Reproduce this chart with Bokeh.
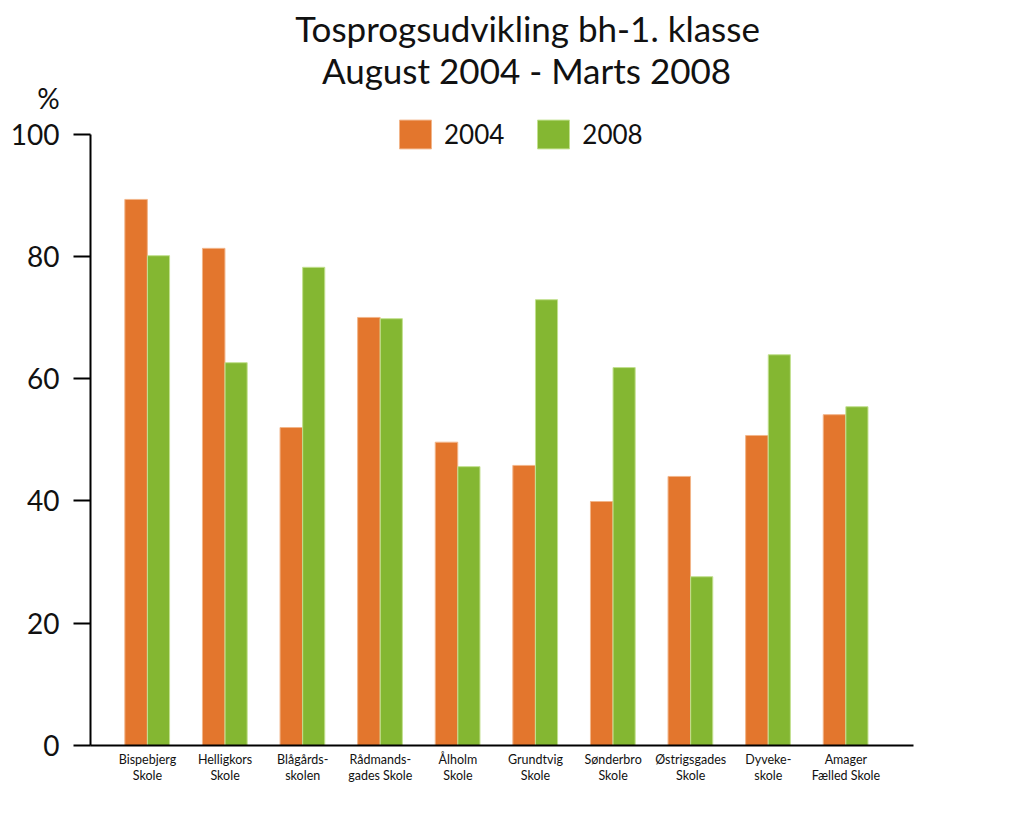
import numpy as np
from bokeh.plotting import figure
from bokeh.models import Range1d, FixedTicker, Label, Legend, LegendItem
from bokeh.embed import file_html
from bokeh.resources import INLINE

schools = ["Bispebjerg\nSkole", "Helligkors\nSkole", "Blågårds-\nskolen", "Rådmands-\ngades Skole",
           "Ålholm\nSkole", "Grundtvig\nSkole", "Sønderbro\nSkole", "Østrigsgades\nSkole",
           "Dyveke-\nskole", "Amager\nFælled Skole"]
v2004 = [89.3, 81.3, 52.0, 70.0, 49.6, 45.8, 39.9, 44.0, 50.7, 54.1]
v2008 = [80.1, 62.6, 78.2, 69.8, 45.6, 72.9, 61.8, 27.6, 63.9, 55.4]
y_ticks = [0, 20, 40, 60, 80, 100]
title_lines = ["Tosprogsudvikling bh-1. klasse", "August 2004 - Marts 2008"]

ORANGE = "#E3762D"
GREEN = "#84B732"
FONT = "Lato"
TXT = "#111111"

W, H = 1020, 810
# layout: axis origin at pixel (90, 745); 77.6 px per category, 6.115 px per percent
AX_LEFT, AX_BOTTOM, AX_RIGHT = 90, 745, 913
SX, SY = 77.6, 6.115
X0 = -0.7345  # data x at the y axis


def px2x(px):
    return X0 + (px - AX_LEFT) / SX


def py2y(py):
    return (AX_BOTTOM - py) / SY


idx = np.arange(len(schools))

p = figure(width=W, height=H, output_backend="svg", toolbar_location=None,
           x_range=Range1d(px2x(0), px2x(W)), y_range=Range1d(py2y(H), py2y(0)),
           min_border=0, min_border_left=0, min_border_right=0,
           min_border_top=0, min_border_bottom=0)
p.title.visible = False
p.background_fill_color = "white"
p.border_fill_color = "white"
p.outline_line_color = None
p.grid.grid_line_color = None

r1 = p.vbar(x=idx - 0.147, top=v2004, width=0.29, fill_color=ORANGE, line_color="#F2B58A", line_width=1)
r2 = p.vbar(x=idx + 0.142, top=v2008, width=0.285, fill_color=GREEN, line_color="#C2E08F", line_width=1)

# y axis
yax = p.yaxis[0]
yax.fixed_location = X0
yax.ticker = FixedTicker(ticks=y_ticks)
yax.bounds = (0, 100)
yax.axis_line_width = 2
yax.axis_line_color = "black"
yax.major_tick_line_width = 2
yax.major_tick_line_color = "black"
yax.major_tick_in = 0
yax.major_tick_out = 17
yax.minor_tick_line_color = None
yax.major_label_standoff = 14
yax.major_label_text_font = FONT
yax.major_label_text_font_size = "28px"
yax.major_label_text_color = TXT

# x axis
xax = p.xaxis[0]
xax.fixed_location = 0
xax.ticker = FixedTicker(ticks=list(idx))
xax.major_label_overrides = {int(i): s for i, s in zip(idx, schools)}
xax.bounds = (X0, px2x(AX_RIGHT))
xax.axis_line_width = 2
xax.axis_line_color = "black"
xax.major_tick_line_color = None
xax.minor_tick_line_color = None
xax.major_tick_in = 0
xax.major_tick_out = 0
xax.major_label_standoff = 6
xax.major_label_text_font = FONT
xax.major_label_text_font_size = "12.5px"
xax.major_label_text_line_height = 1.1
xax.major_label_text_color = TXT

# title lines
p.add_layout(Label(x=px2x(527), y=py2y(27), text=title_lines[0], text_align="center",
                   text_baseline="alphabetic", text_font=FONT, text_font_size="35px",
                   text_color=TXT))
p.add_layout(Label(x=px2x(526), y=py2y(69), text=title_lines[1], text_align="center",
                   text_baseline="alphabetic", text_font=FONT, text_font_size="35px",
                   text_color=TXT))

# % unit label
p.add_layout(Label(x=px2x(48), y=py2y(97), text="%", text_align="center",
                   text_baseline="alphabetic", text_font=FONT, text_font_size="28px",
                   text_color=TXT))

legend = Legend(items=[LegendItem(label="2004", renderers=[r1]),
                       LegendItem(label="2008", renderers=[r2])],
                orientation="horizontal", location=(395, H - 152),
                glyph_width=40, glyph_height=36, label_height=36, label_standoff=9,
                label_text_font=FONT, label_text_font_size="26px", label_text_color=TXT,
                spacing=29, padding=0, margin=0, border_line_color=None,
                background_fill_alpha=0)
p.add_layout(legend, "center")

open("out.html", "w").write(file_html(p, INLINE))
